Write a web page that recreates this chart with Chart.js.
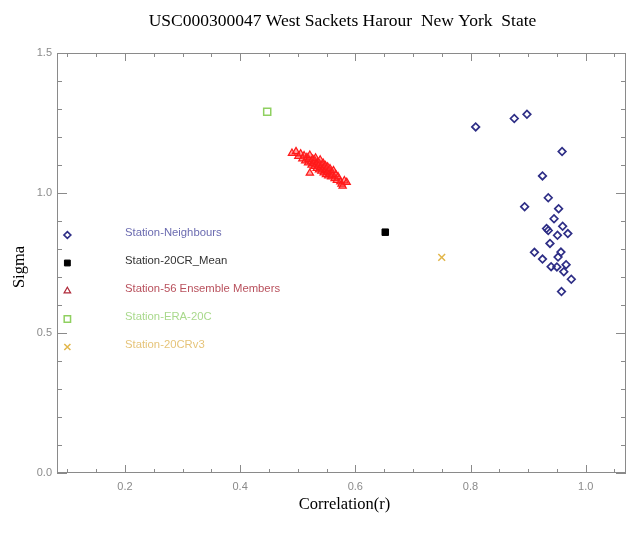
<!DOCTYPE html>
<html>
<head>
<meta charset="utf-8">
<script src="https://cdn.jsdelivr.net/npm/chart.js@4.4.0/dist/chart.umd.min.js"></script>
<style>
  html, body { margin: 0; padding: 0; background: #fff; overflow: hidden; }
  canvas { display: block; }
</style>
</head>
<body>
<canvas id="chart" width="627" height="540"></canvas>
<script>
const titleText = 'USC000300047 West Sackets Harour  New York  State';
const xTitle = 'Correlation(r)';
const yTitle = 'Sigma';

// axis ranges and ticks
const xRange = [0.082, 1.07];
const yRange = [0, 1.5];
const xMajorTicks = [0.2, 0.4, 0.6, 0.8, 1.0];
const xTickLabels = ['0.2', '0.4', '0.6', '0.8', '1.0'];
const xMinorTicks = [0.1, 0.15, 0.25, 0.3, 0.35, 0.45, 0.5, 0.55, 0.65, 0.7, 0.75, 0.85, 0.9, 0.95, 1.05];
const yMajorTicks = [0, 0.5, 1.0, 1.5];
const yTickLabels = ['0.0', '0.5', '1.0', '1.5'];
const yMinorTicks = [0.1, 0.2, 0.3, 0.4, 0.6, 0.7, 0.8, 0.9, 1.1, 1.2, 1.3, 1.4];

// Station-Neighbours
const neighbourR = [0.809, 0.876, 0.898, 0.959, 0.925, 0.935, 0.894, 0.953, 0.945, 0.932, 0.935, 0.960,
  0.951, 0.969, 0.938, 0.911, 0.957, 0.925, 0.952, 0.940, 0.950, 0.966, 0.962, 0.975, 0.958];
const neighbourSigma = [1.236, 1.266, 1.281, 1.148, 1.061, 0.983, 0.951, 0.944, 0.908, 0.873, 0.866, 0.881,
  0.849, 0.855, 0.820, 0.788, 0.789, 0.764, 0.771, 0.737, 0.736, 0.744, 0.719, 0.692, 0.648];

// Station-20CR_Mean, ERA-20C, 20CRv3
const meanR = [0.652], meanSigma = [0.86];
const eraR = [0.447], eraSigma = [1.29];
const v3R = [0.75], v3Sigma = [0.77];

// Station-56 Ensemble Members
const ensembleR = [0.490, 0.497, 0.501, 0.505, 0.508, 0.511, 0.513, 0.516, 0.518, 0.519, 0.521, 0.523, 0.524, 0.526,
  0.527, 0.529, 0.530, 0.531, 0.532, 0.533, 0.535, 0.536, 0.537, 0.538, 0.539, 0.540, 0.541, 0.542,
  0.543, 0.544, 0.545, 0.546, 0.547, 0.548, 0.549, 0.550, 0.551, 0.552, 0.553, 0.554, 0.555, 0.556,
  0.558, 0.559, 0.560, 0.562, 0.564, 0.566, 0.568, 0.570, 0.574, 0.576, 0.578, 0.581, 0.585, 0.521];
const ensembleSigma = [1.142, 1.148, 1.131, 1.140, 1.122, 1.133, 1.115, 1.127, 1.108, 1.120, 1.135, 1.112, 1.100, 1.121,
  1.106, 1.095, 1.114, 1.125, 1.103, 1.088, 1.110, 1.097, 1.083, 1.104, 1.118, 1.092, 1.078, 1.099,
  1.086, 1.107, 1.072, 1.091, 1.080, 1.098, 1.066, 1.085, 1.074, 1.093, 1.061, 1.079, 1.068, 1.087,
  1.058, 1.072, 1.064, 1.080, 1.052, 1.066, 1.045, 1.058, 1.040, 1.032, 1.025, 1.044, 1.038, 1.071];

// legend rows
const legendLabels = ['Station-Neighbours', 'Station-20CR_Mean', 'Station-56 Ensemble Members', 'Station-ERA-20C', 'Station-20CRv3'];
const legendSigma = [0.85, 0.75, 0.65, 0.55, 0.45];
const legendMarkR = 0.1, legendTextR = 0.2;

const toPoints = (xs, ys) => xs.map((x, i) => ({x: x, y: ys[i]}));

const styles = [
  {pointStyle: 'rectRot', radius: 3.8, border: '#2e2e86', fill: 'rgba(0,0,0,0)', bw: 1.7, text: '#6b6bb0'},
  {pointStyle: 'rect', radius: 4.6, border: '#000', fill: '#000', bw: 1, text: '#333333'},
  {pointStyle: 'triangle', radius: 4.2, border: '#ff1a1a', fill: 'rgba(255,50,50,0.45)', bw: 1.2, text: '#b8505c',
    legendColor: '#b02a3a', legendFill: 'rgba(0,0,0,0)'},
  {pointStyle: 'rect', radius: 5, border: '#8fd060', fill: 'rgba(0,0,0,0)', bw: 1.5, text: '#a9d98c'},
  {pointStyle: 'crossRot', radius: 4.8, border: '#e2b64a', fill: 'rgba(0,0,0,0)', bw: 1.5, text: '#e6c47a'}
];

function ds(label, pts, s) {
  return {
    label: label, data: pts, pointStyle: s.pointStyle, pointRadius: s.radius, pointHoverRadius: s.radius,
    borderColor: s.border, backgroundColor: s.fill, pointBorderWidth: s.bw, showLine: false
  };
}

const plotDecor = {
  id: 'plotDecor',
  beforeDatasetsDraw(chart) {
    const ctx = chart.ctx, a = chart.chartArea;
    const xs = chart.scales.x, ys = chart.scales.y;
    ctx.save();
    ctx.strokeStyle = '#8a8a8a';
    ctx.lineWidth = 1;
    ctx.strokeRect(a.left + 0.5, a.top + 0.5, a.right - a.left - 1, a.bottom - a.top - 1);
    ctx.beginPath();
    const xt = (v, len) => {
      const p = Math.round(xs.getPixelForValue(v)) + 0.5;
      ctx.moveTo(p, a.bottom); ctx.lineTo(p, a.bottom - len);
      ctx.moveTo(p, a.top); ctx.lineTo(p, a.top + len);
    };
    const yt = (v, len) => {
      const p = Math.round(ys.getPixelForValue(v)) + 0.5;
      ctx.moveTo(a.left, p); ctx.lineTo(a.left + len, p);
      ctx.moveTo(a.right, p); ctx.lineTo(a.right - len, p);
    };
    xMajorTicks.forEach(v => xt(v, 8));
    xMinorTicks.forEach(v => xt(v, 4));
    yMajorTicks.forEach(v => yt(v, 10));
    yMinorTicks.forEach(v => yt(v, 5));
    ctx.stroke();

    ctx.fillStyle = '#8a8a8a';
    ctx.font = '11px "Liberation Sans", Arial, sans-serif';
    ctx.textAlign = 'center';
    ctx.textBaseline = 'middle';
    xMajorTicks.forEach((v, i) => ctx.fillText(xTickLabels[i], xs.getPixelForValue(v), a.bottom + 14));
    ctx.textAlign = 'right';
    yMajorTicks.forEach((v, i) => ctx.fillText(yTickLabels[i], a.left - 5, ys.getPixelForValue(v)));

    ctx.fillStyle = '#000';
    ctx.textAlign = 'center';
    const cx = (a.left + a.right) / 2;
    ctx.font = '17.5px "Liberation Serif", "Times New Roman", serif';
    ctx.fillText(titleText, cx + 1, 21);
    ctx.font = '16.5px "Liberation Serif", "Times New Roman", serif';
    ctx.fillText(xTitle, cx + 3, 505);
    ctx.translate(20, (a.top + a.bottom) / 2 + 4);
    ctx.rotate(-Math.PI / 2);
    ctx.fillText(yTitle, 0, 0);
    ctx.restore();
  },
  afterDatasetsDraw(chart) {
    const ctx = chart.ctx;
    const xs = chart.scales.x, ys = chart.scales.y;
    ctx.save();
    legendLabels.forEach((lab, i) => {
      const s = styles[i];
      const y = ys.getPixelForValue(legendSigma[i]);
      ctx.strokeStyle = s.legendColor || s.border;
      ctx.fillStyle = s.legendFill || s.fill;
      ctx.lineWidth = s.bw;
      Chart.helpers.drawPoint(ctx, {pointStyle: s.pointStyle, radius: s.radius * 0.9, rotation: 0, borderWidth: s.bw},
        xs.getPixelForValue(legendMarkR), y);
      ctx.fillStyle = s.text;
      ctx.font = '11.3px "Liberation Sans", Arial, sans-serif';
      ctx.textAlign = 'left';
      ctx.textBaseline = 'middle';
      ctx.fillText(lab, xs.getPixelForValue(legendTextR), y - 2);
    });
    ctx.restore();
  }
};

new Chart(document.getElementById('chart'), {
  type: 'scatter',
  data: {
    datasets: [
      ds('Station-Neighbours', toPoints(neighbourR, neighbourSigma), styles[0]),
      ds('Station-20CR_Mean', toPoints(meanR, meanSigma), styles[1]),
      ds('Station-56 Ensemble Members', toPoints(ensembleR, ensembleSigma), styles[2]),
      ds('Station-ERA-20C', toPoints(eraR, eraSigma), styles[3]),
      ds('Station-20CRv3', toPoints(v3R, v3Sigma), styles[4])
    ]
  },
  options: {
    responsive: false,
    animation: false,
    layout: {autoPadding: false, padding: {left: 57, right: 1, top: 53, bottom: 67}},
    plugins: {legend: {display: false}, tooltip: {enabled: false}, title: {display: false}},
    scales: {
      x: {type: 'linear', display: false, min: xRange[0], max: xRange[1]},
      y: {type: 'linear', display: false, min: yRange[0], max: yRange[1]}
    }
  },
  plugins: [plotDecor]
});
</script>
</body>
</html>
